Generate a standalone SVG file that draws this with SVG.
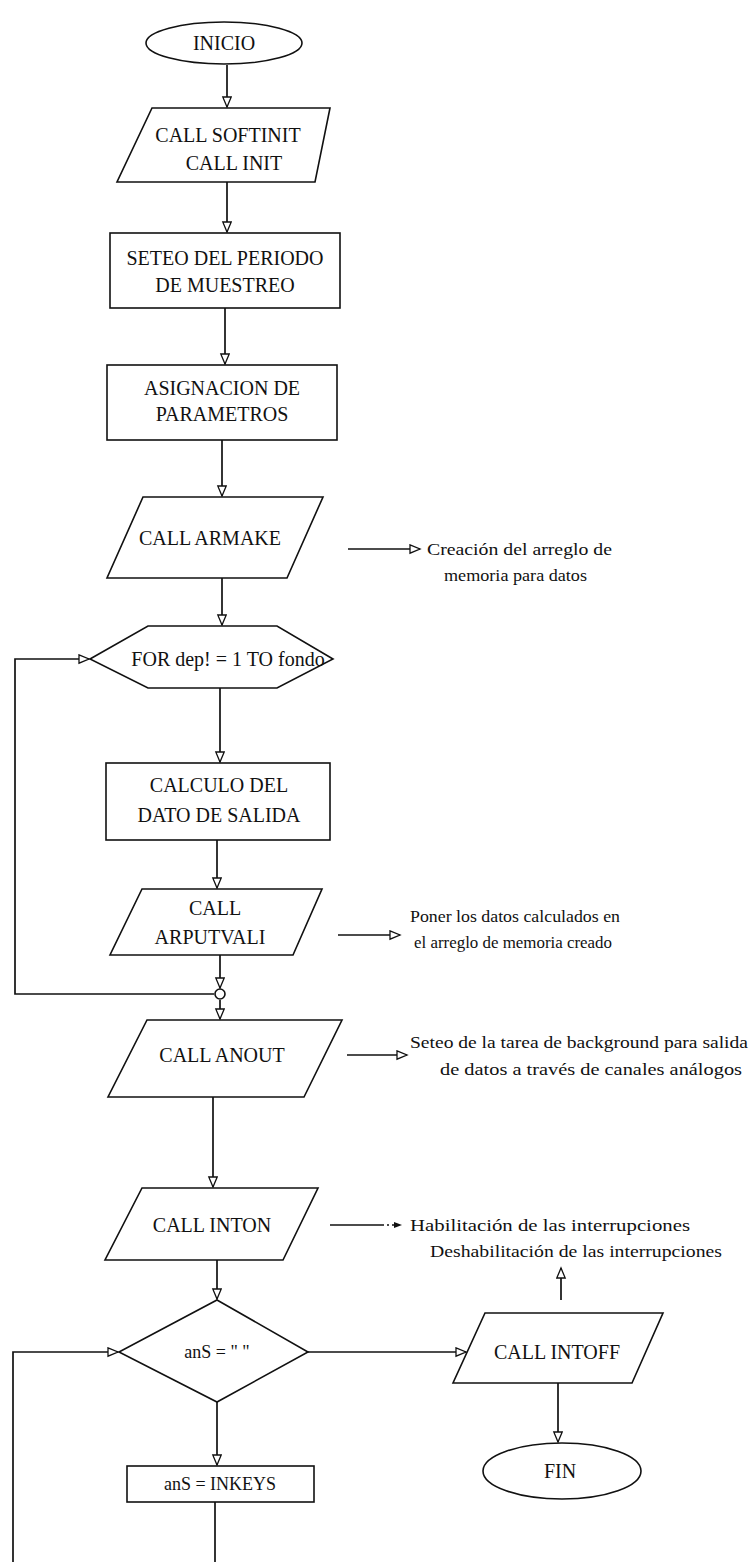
<svg xmlns="http://www.w3.org/2000/svg" width="751" height="1562" viewBox="0 0 751 1562">
  <style>
    .shape { fill: #ffffff; stroke: #111111; stroke-width: 1.6; }
    .lbl { font-family: "Liberation Serif", "Times New Roman", serif; font-size: 20px; fill: #111111; text-anchor: middle; }
    .note { font-family: "Liberation Serif", "Times New Roman", serif; font-size: 17px; fill: #111111; }
    .wire { fill: none; stroke: #111111; stroke-width: 1.7; }
  </style>
  <defs>
    <marker id="open" markerUnits="userSpaceOnUse" markerWidth="14" markerHeight="12" refX="11" refY="5" orient="auto">
      <path d="M1,0.8 L11,5 L1,9.2 z" fill="#ffffff" stroke="#111111" stroke-width="1.3"/>
    </marker>
    <marker id="solid" markerUnits="userSpaceOnUse" markerWidth="10" markerHeight="8" refX="8" refY="4" orient="auto">
      <path d="M0,1 L8,4 L0,7 z" fill="#111111"/>
    </marker>
  </defs>
  <rect width="751" height="1562" fill="#ffffff"/>

  <g id="connectors">
    <path class="wire" d="M227,65 V107" marker-end="url(#open)"/>
    <path class="wire" d="M227,182 V232" marker-end="url(#open)"/>
    <path class="wire" d="M225,308 V364" marker-end="url(#open)"/>
    <path class="wire" d="M222,440 V496" marker-end="url(#open)"/>
    <path class="wire" d="M222,578 V625" marker-end="url(#open)"/>
    <path class="wire" d="M220,688 V762" marker-end="url(#open)"/>
    <path class="wire" d="M217,840 V888" marker-end="url(#open)"/>
    <path class="wire" d="M220,955 V988" marker-end="url(#open)"/>
    <path class="wire" d="M220,1000 V1019" marker-end="url(#open)"/>
    <path class="wire" d="M213,1097 V1187" marker-end="url(#open)"/>
    <path class="wire" d="M217,1260 V1299" marker-end="url(#open)"/>
    <path class="wire" d="M217,1402 V1465" marker-end="url(#open)"/>
    <path class="wire" d="M215,1502 V1562"/>
    <!-- FOR loop return -->
    <path class="wire" d="M214,994 H15 V659 H89" marker-end="url(#open)"/>
    <!-- key polling loop return -->
    <path class="wire" d="M13,1562 V1352 H118" marker-end="url(#open)"/>
    <path class="wire" d="M308,1352 H466" marker-end="url(#open)"/>
    <path class="wire" d="M558,1383 V1442" marker-end="url(#open)"/>
    <path class="wire" d="M561,1300 V1268" marker-end="url(#open)"/>
    <!-- side notes -->
    <path class="wire" d="M348,549 H420" marker-end="url(#open)"/>
    <path class="wire" d="M338,935 H400" marker-end="url(#open)"/>
    <path class="wire" d="M347,1055 H407" marker-end="url(#open)"/>
    <path class="wire" d="M330,1225 H384"/>
    <path class="wire" d="M387,1225 H402" stroke-dasharray="2 3" marker-end="url(#solid)"/>
  </g>

  <g id="inicio">
    <ellipse class="shape" cx="224" cy="43" rx="78" ry="21"/>
    <text class="lbl" x="224" y="50">INICIO</text>
  </g>

  <g id="softinit">
    <polygon class="shape" points="152,108 330,108 315,182 117,182"/>
    <text class="lbl" x="228" y="142">CALL SOFTINIT</text>
    <text class="lbl" x="234" y="170">CALL INIT</text>
  </g>

  <g id="periodo">
    <rect class="shape" x="110" y="233" width="230" height="75"/>
    <text class="lbl" x="225" y="265">SETEO DEL PERIODO</text>
    <text class="lbl" x="225" y="292">DE MUESTREO</text>
  </g>

  <g id="parametros">
    <rect class="shape" x="107" y="365" width="230" height="75"/>
    <text class="lbl" x="222" y="395">ASIGNACION DE</text>
    <text class="lbl" x="222" y="421">PARAMETROS</text>
  </g>

  <g id="armake">
    <polygon class="shape" points="143,497 323,497 287,578 107,578"/>
    <text class="lbl" x="210" y="545">CALL ARMAKE</text>
    <text class="note" x="427" y="555" textLength="185" lengthAdjust="spacingAndGlyphs">Creación del arreglo de</text>
    <text class="note" x="444" y="581" textLength="143" lengthAdjust="spacingAndGlyphs">memoria para datos</text>
  </g>

  <g id="for">
    <polygon class="shape" points="90,659 148,626 277,626 333,659 277,688 148,688"/>
    <text class="lbl" x="228" y="666">FOR dep! = 1 TO fondo</text>
  </g>

  <g id="calculo">
    <rect class="shape" x="106" y="763" width="224" height="77"/>
    <text class="lbl" x="219" y="792">CALCULO DEL</text>
    <text class="lbl" x="219" y="822">DATO DE SALIDA</text>
  </g>

  <g id="arputvali">
    <polygon class="shape" points="142,889 322,889 293,955 110,955"/>
    <text class="lbl" x="215" y="915">CALL</text>
    <text class="lbl" x="210" y="944">ARPUTVALI</text>
    <text class="note" x="410" y="922" textLength="210" lengthAdjust="spacingAndGlyphs">Poner los datos calculados en</text>
    <text class="note" x="414" y="948" textLength="198" lengthAdjust="spacingAndGlyphs">el arreglo de memoria creado</text>
  </g>

  <g id="junction">
    <circle class="shape" cx="220" cy="994" r="5"/>
  </g>

  <g id="anout">
    <polygon class="shape" points="147,1020 342,1020 304,1097 108,1097"/>
    <text class="lbl" x="222" y="1062">CALL ANOUT</text>
    <text class="note" x="410" y="1048" textLength="338" lengthAdjust="spacingAndGlyphs">Seteo de la tarea de background para salida</text>
    <text class="note" x="440" y="1075" textLength="302" lengthAdjust="spacingAndGlyphs">de datos a través de canales análogos</text>
  </g>

  <g id="inton">
    <polygon class="shape" points="142,1188 318,1188 283,1260 105,1260"/>
    <text class="lbl" x="212" y="1232">CALL INTON</text>
    <text class="note" x="410" y="1231" textLength="280" lengthAdjust="spacingAndGlyphs">Habilitación de las interrupciones</text>
  </g>

  <g id="tecla">
    <polygon class="shape" points="217,1300 308,1352 217,1402 119,1352"/>
    <text class="lbl" x="217" y="1358" style="font-size:18px">anS = " "</text>
  </g>

  <g id="inkeys">
    <rect class="shape" x="127" y="1466" width="187" height="36"/>
    <text class="lbl" x="220" y="1490" style="font-size:18px">anS = INKEYS</text>
  </g>

  <g id="intoff">
    <polygon class="shape" points="485,1313 663,1313 632,1383 453,1383"/>
    <text class="lbl" x="557" y="1359">CALL INTOFF</text>
    <text class="note" x="430" y="1257" textLength="292" lengthAdjust="spacingAndGlyphs">Deshabilitación de las interrupciones</text>
  </g>

  <g id="fin">
    <ellipse class="shape" cx="562" cy="1471" rx="79" ry="28"/>
    <text class="lbl" x="560" y="1478">FIN</text>
  </g>
</svg>
